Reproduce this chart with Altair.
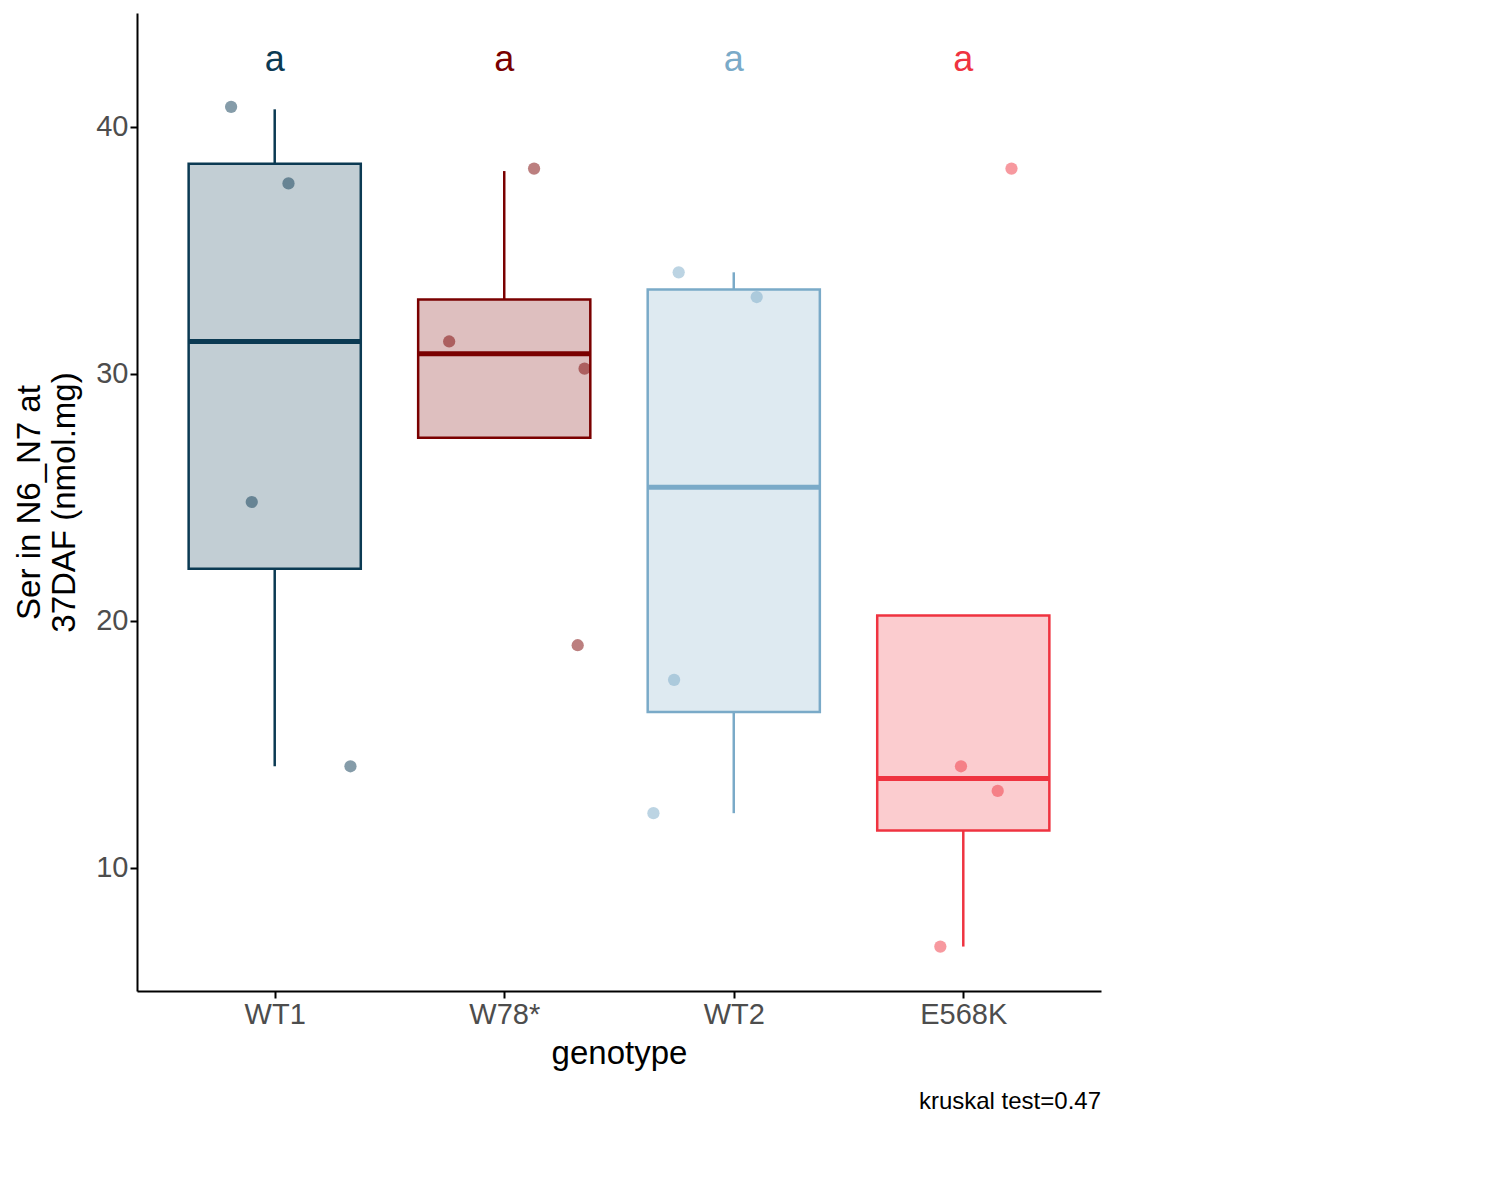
import pandas as pd
import altair as alt

genotypes = ["WT1", "W78*", "WT2", "E568K"]
colors = ["#0b3a53", "#7a0000", "#7aaac8", "#ef3340"]

# box statistics
q1 = [22.1, 27.4, 16.3, 11.5]
median = [31.3, 30.8, 25.4, 13.6]
q3 = [38.5, 33.0, 33.4, 20.2]
whisk_lo = [14.1, 27.4, 12.2, 6.8]
whisk_hi = [40.7, 38.2, 34.1, 20.2]

# raw points (jitter offset, value)
pt_group = ["WT1"] * 4 + ["W78*"] * 4 + ["WT2"] * 4 + ["E568K"] * 4
pt_jitter = [-0.19, 0.06, -0.10, 0.33, 0.13, -0.24, 0.35, 0.32,
             -0.24, 0.10, -0.26, -0.35, 0.21, -0.01, 0.15, -0.10]
pt_value = [40.8, 37.7, 24.8, 14.1, 38.3, 31.3, 30.2, 19.0,
            34.1, 33.1, 17.6, 12.2, 38.3, 14.1, 13.1, 6.8]

boxes = pd.DataFrame({"genotype": genotypes, "q1": q1, "median": median, "q3": q3,
                      "lo": whisk_lo, "hi": whisk_hi, "label": ["a"] * 4, "ly": [42.7] * 4})
boxes["pos"] = range(1, 5)
boxes["left"] = boxes["pos"] - 0.375
boxes["right"] = boxes["pos"] + 0.375

points = pd.DataFrame({"genotype": pt_group, "value": pt_value})
points["pos"] = points["genotype"].map({g: i + 1 for i, g in enumerate(genotypes)}) + pt_jitter

scale = alt.Scale(domain=genotypes, range=colors)
color = alt.Color("genotype:N", scale=scale, sort=genotypes,
                  legend=alt.Legend(title="Genotype", titleFontSize=30, titleFontWeight="normal",
                                    labelFontSize=28, symbolType="square", symbolSize=1000,
                                    symbolStrokeWidth=2.5, symbolOpacity=0.45, rowPadding=22,
                                    titlePadding=24, labelOffset=30, orient="none",
                                    legendX=1030, legendY=325, titleColor="black",
                                    labelColor="black"))
nolegend = alt.Color("genotype:N", scale=scale, legend=None)

axis_style = dict(grid=False, domainColor="black", domainWidth=2, tickColor="black",
                  tickWidth=2, tickSize=7, labelFontSize=29, labelColor="#4d4d4d",
                  titleFontSize=33, titleFontWeight="normal", titleColor="black")
xaxis = alt.X("pos:Q", scale=alt.Scale(domain=[0.4, 4.6], nice=False, zero=False),
              axis=alt.Axis(values=[1, 2, 3, 4], title="genotype", titlePadding=8,
                            labelExpr="['WT1','W78*','WT2','E568K'][datum.value-1]", **axis_style))
yaxis = alt.Y("lo:Q", scale=alt.Scale(domain=[5, 44.6], nice=False, zero=False),
              axis=alt.Axis(values=[10, 20, 30, 40], title=["Ser in N6_N7 at", "37DAF (nmol.mg)"],
                            titlePadding=14, **axis_style))

base = alt.Chart(boxes)
whisk_low = base.mark_rule(strokeWidth=2.5).encode(x=xaxis, y=yaxis, y2="q1:Q", color=nolegend)
whisk_high = base.mark_rule(strokeWidth=2.5).encode(x="pos:Q", y="q3:Q", y2="hi:Q", color=nolegend)
rects = base.mark_rect(fillOpacity=0.25, strokeWidth=2.5).encode(
    x="left:Q", x2="right:Q", y="q1:Q", y2="q3:Q", color=color,
    stroke=alt.Stroke("genotype:N", scale=scale, legend=None))
meds = base.mark_rule(strokeWidth=5).encode(x="left:Q", x2="right:Q", y="median:Q", color=nolegend)
letters = base.mark_text(fontSize=36, baseline="middle").encode(
    x="pos:Q", y="ly:Q", text="label:N", color=nolegend)
dots = alt.Chart(points).mark_circle(size=150, opacity=0.5).encode(
    x="pos:Q", y="value:Q", color=nolegend)

chart = (whisk_low + whisk_high + rects + meds + dots + letters).properties(
    width=964, height=978,
    title=alt.TitleParams("kruskal test=0.47", orient="bottom", anchor="end",
                          fontSize=24, fontWeight="normal", offset=20, color="black")
).configure(font="Liberation Sans").configure_view(stroke=None)

chart.save("out.html", embed_options={"renderer": "svg", "actions": False})
